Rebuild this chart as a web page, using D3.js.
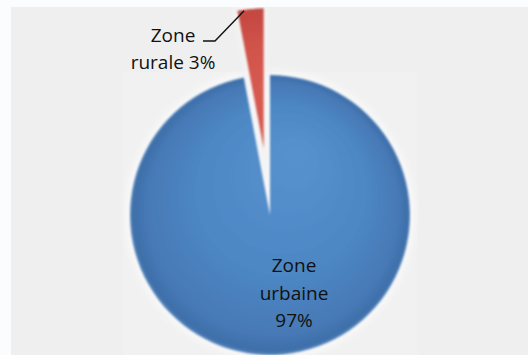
<!DOCTYPE html>
<html>
<head>
<meta charset="utf-8">
<script src="https://cdn.jsdelivr.net/npm/d3@7/dist/d3.min.js"></script>
<style>
  html, body { margin: 0; padding: 0; background: #fbfcfe; }
  svg { display: block; }
  text { font-family: "Open Sans", "DejaVu Sans", sans-serif; }
</style>
</head>
<body>
<svg id="chart" width="528" height="355"></svg>
<script>
// Population share by zone
const categories = ["Zone urbaine", "Zone rurale"];
const values = [97, 3];
const labelLines = [["Zone", "urbaine", "97%"], ["Zone", "rurale 3%"]];

const W = 528, H = 355;
const cx = 270, cy = 215, R = 140;
const explode = 67;

const svg = d3.select("#chart");
const defs = svg.append("defs");

// panel background
svg.append("rect").attr("x", 11).attr("y", 7).attr("width", W - 11).attr("height", H - 7)
  .attr("fill", "#efefef");
svg.append("rect").attr("x", 123).attr("y", 72).attr("width", 295).attr("height", H - 72)
  .attr("fill", "#f1f1f1");

const clip = defs.append("clipPath").attr("id", "panel");
clip.append("rect").attr("x", 11).attr("y", 7).attr("width", W - 11).attr("height", H - 7);

// shaded fills
function radial(id, stops) {
  const g = defs.append("radialGradient").attr("id", id)
    .attr("gradientUnits", "userSpaceOnUse")
    .attr("cx", 0).attr("cy", 0).attr("r", R)
    .attr("fx", R * 0.2).attr("fy", -R * 0.45);
  stops.forEach(([o, c]) => g.append("stop").attr("offset", o).attr("stop-color", c));
}
radial("gBlue", [[0, "#5792cf"], [0.6, "#4d87c4"], [0.9, "#4679b6"], [0.98, "#3e6fa9"], [1, "#5585bc"]]);
radial("gRed", [[0, "#d95e55"], [0.6, "#cf5249"], [1, "#c2473f"]]);

const glow = defs.append("filter").attr("id", "soft")
  .attr("x", "-20%").attr("y", "-20%").attr("width", "140%").attr("height", "140%");
glow.append("feGaussianBlur").attr("stdDeviation", 0.8);

const halo = defs.append("filter").attr("id", "halo")
  .attr("x", "-20%").attr("y", "-20%").attr("width", "140%").attr("height", "140%");
halo.append("feGaussianBlur").attr("stdDeviation", 4);

const pie = d3.pie().sort(null).value(d => d).startAngle(0).endAngle(2 * Math.PI);
const arcs = pie(values);
const arc = d3.arc().innerRadius(0).outerRadius(R);
const fills = ["url(#gBlue)", "url(#gRed)"];
const offsets = [0, explode];

function shift(a, dist) {
  const mid = (a.startAngle + a.endAngle) / 2;
  return [dist * Math.sin(mid), -dist * Math.cos(mid)];
}

const plot = svg.append("g").attr("clip-path", "url(#panel)");

// soft light halo around slices
plot.selectAll("path.halo").data(arcs).join("path")
  .attr("class", "halo")
  .attr("transform", (a, i) => {
    const [dx, dy] = shift(a, offsets[i]);
    return `translate(${cx + dx},${cy + dy})`;
  })
  .attr("d", d3.arc().innerRadius(0).outerRadius(R + 3))
  .attr("fill", "#ffffff").attr("opacity", 0.8)
  .attr("filter", "url(#halo)");

plot.selectAll("path.slice").data(arcs).join("path")
  .attr("class", "slice")
  .attr("transform", (a, i) => {
    const [dx, dy] = shift(a, offsets[i]);
    return `translate(${cx + dx},${cy + dy})`;
  })
  .attr("d", arc)
  .attr("fill", (a, i) => fills[i])
  .attr("filter", "url(#soft)");

// leader line to the exploded slice
const red = arcs[1];
const [rdx, rdy] = shift(red, explode);
const tipAngle = red.startAngle + (red.endAngle - red.startAngle) * 0.25;
const tip = [cx + rdx + (R - 1) * Math.sin(tipAngle), cy + rdy - (R - 1) * Math.cos(tipAngle)];
plot.append("path")
  .attr("d", d3.line()([[203, 41], [215, 41], tip]))
  .attr("fill", "none").attr("stroke", "#111").attr("stroke-width", 1.4);

// labels
function label(lines, x, y0, step) {
  const t = svg.append("text").attr("text-anchor", "middle")
    .attr("font-size", 19).attr("fill", "#111");
  lines.forEach((s, k) => t.append("tspan").attr("x", x).attr("y", y0 + k * step).text(s));
}
label(labelLines[1], 173, 42, 27);
label(labelLines[0], 294, 272, 27.5);
</script>
</body>
</html>
